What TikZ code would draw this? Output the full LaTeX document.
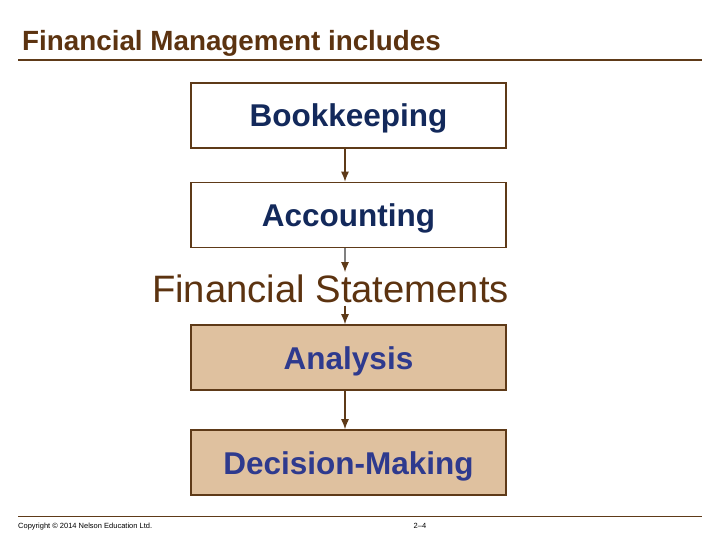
\documentclass[tikz,border=0pt]{standalone}
\usepackage{fontspec}
\setmainfont{Liberation Sans}
\usetikzlibrary{arrows.meta}

\definecolor{titlebrown}{HTML}{5C3310}
\definecolor{linebrown}{HTML}{5E3A18}
\definecolor{navytext}{HTML}{13295B}
\definecolor{violettext}{HTML}{2E3A8E}
\definecolor{tanfill}{HTML}{DFC19F}

\tikzset{
  whitebox/.style={draw=linebrown, line width=1.6pt, fill=white, minimum width=315, minimum height=65,
    inner sep=0pt, text height=23pt, text depth=0pt, font=\fontsize{31.5}{36}\selectfont\bfseries, text=navytext},
  tanbox/.style={whitebox, fill=tanfill, text=violettext},
  flow/.style={-{Latex[length=10pt,width=8pt,color=linebrown]}, line width=1.2pt, draw=linebrown}
}

\begin{document}
\begin{tikzpicture}[x=1pt, y=-1pt]
        \useasboundingbox (0,0) rectangle (720,540);

        % title and rules
        \node[anchor=base west, inner sep=0pt, text=titlebrown, font=\fontsize{27.8}{32}\selectfont\bfseries] (title) at (22,51) {Financial Management includes};
        \draw[linebrown, line width=2pt] (18,60) -- (702,60);
        \draw[linebrown, line width=1pt] (18,516) -- (702,516);

        % boxes
        \node[whitebox] (book) at (348.5,115.5) {Bookkeeping};
        \node[whitebox] (acct) at (348.5,215) {Accounting};
        \node[inner sep=0pt, anchor=base, text=titlebrown, font=\fontsize{38.2}{42}\selectfont] (stmt) at (330.5,302) {Financial Statements};
        \node[tanbox] (anal) at (348.5,357.5) {Analysis};
        \node[tanbox] (decision) at (348.5,462.5) {Decision-Making};

        % arrows
        \draw[flow] ([xshift=-3.5pt]book.south) -- ([xshift=-3.5pt]book.south |- acct.north);
        \draw[flow, draw=gray] ([xshift=-3.5pt]acct.south) -- ([xshift=-3.5pt,yshift=2pt]acct.south |- stmt.north);
        \draw[flow] ([xshift=14.5pt,yshift=-3pt]stmt.south) -- ([xshift=-3.5pt]anal.north);
        \draw[flow] ([xshift=-3.5pt]anal.south) -- ([xshift=-3.5pt]decision.north);

        % footer
        \node[anchor=base west, inner sep=0pt, font=\fontsize{7.5}{9}\selectfont] (copy) at (18,528) {Copyright \textcopyright{} 2014 Nelson Education Ltd.};
        \node[anchor=base, inner sep=0pt, font=\fontsize{7.5}{9}\selectfont] (page) at (420,528) {2--4};
\end{tikzpicture}
\end{document}
